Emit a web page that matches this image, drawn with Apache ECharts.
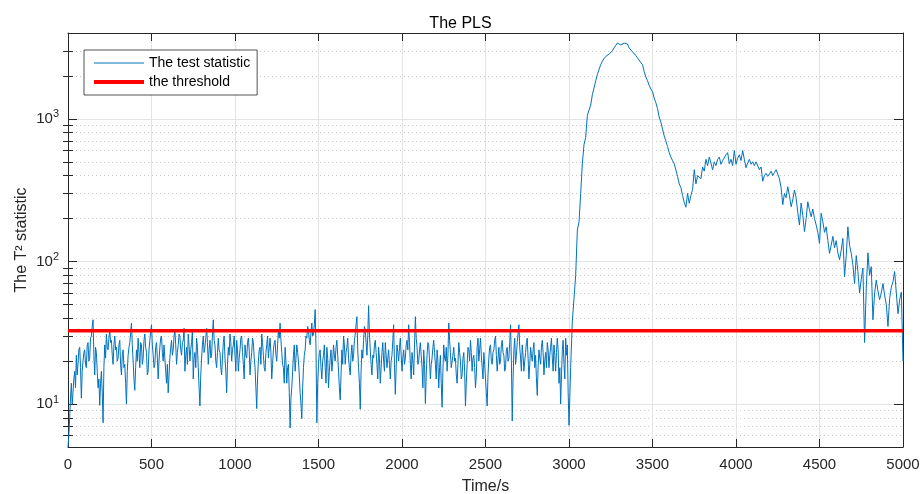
<!DOCTYPE html>
<html lang="en">
<head>
    <meta charset="UTF-8">
    <title>The PLS</title>
    <script src="https://cdn.jsdelivr.net/npm/echarts@6/dist/echarts.min.js"></script>
    <style>
        html, body { margin: 0; padding: 0; background: #fff; }
        #main { width: 921px; height: 494px; }
    </style>
</head>
<body>
<div id="main"></div>
<script>
    // T2 statistic, normal operation 0..3000 s, one value every 5 s
    const normalStep = 5;
    const normalT2 = [
        5, 6, 8, 11, 14, 10, 12, 15, 17, 13, 22, 16, 19, 24, 25, 18, 11, 17, 20, 23,
        24, 19, 18, 26, 27, 20, 21, 29, 30, 35, 39, 22, 16, 25, 23, 17, 13, 15, 9.8, 14,
        17, 12, 7.4, 18, 26, 21, 31, 25, 24, 29, 33, 27, 28, 22, 19, 26, 30, 24, 25, 20,
        21, 26, 28, 19, 16, 22, 24, 18, 19, 14, 10, 17, 22, 25, 27, 31, 37, 26, 20, 15,
        12.5, 18, 24, 20, 29, 23, 18, 27, 26, 19, 21, 28, 31, 25, 23, 16, 17, 24, 28, 32,
        36, 26, 22, 18, 19, 25, 27, 21, 15, 20, 25, 29, 30, 23, 20, 26, 26, 17, 14, 19,
        12, 16, 21, 25, 28, 22, 24, 30, 33, 26, 19, 23, 26, 31, 30, 24, 22, 27, 28, 34,
        17, 22, 25, 19, 31, 26, 20, 24, 27, 33, 15, 21, 23, 18, 29, 25, 18, 13, 9.7, 16,
        21, 26, 30, 23, 25, 29, 34, 27, 19, 24, 28, 21, 22, 31, 39, 28, 26, 20, 18, 23,
        29, 24, 23, 18, 16, 21, 27, 30, 21, 17, 12, 19, 25, 22, 31, 27, 20, 24, 26, 30,
        22, 17, 28, 24, 17, 21, 24, 29, 30, 23, 19, 15, 26, 22, 21, 27, 29, 24, 16, 20,
        23, 29, 27, 21, 18, 13, 9.3, 15, 20, 24, 25, 19, 31, 27, 22, 18, 17, 23, 26, 30,
        21, 25, 29, 23, 15, 19, 24, 27, 28, 22, 20, 26, 33, 29, 37, 28, 23, 19, 18, 14,
        25, 20, 14, 18, 19, 12, 6.8, 11, 13, 17, 22, 26, 17, 21, 26, 23, 20, 16, 12, 10,
        7.9, 13, 18, 22, 24, 30, 29, 35, 33, 28, 26, 32, 37, 30, 31, 36, 46, 25, 7.4, 14,
        19, 23, 24, 18, 15, 20, 22, 26, 18, 14, 25, 21, 13, 17, 21, 24, 17, 20, 26, 22,
        20, 25, 28, 22, 17, 13, 10.7, 16, 24, 19, 30, 26, 19, 23, 25, 29, 21, 18, 16, 22,
        26, 20, 22, 28, 31, 36, 41, 24, 18, 14, 9.2, 17, 24, 21, 28, 35, 33, 27, 22, 30,
        49, 31, 24, 19, 16, 22, 21, 26, 28, 23, 19, 15, 25, 21, 14, 18, 23, 27, 20, 17,
        27, 22, 18, 21, 24, 19, 15, 20, 22, 28, 36, 19, 11.7, 18, 26, 23, 20, 25, 29, 22,
        17, 21, 24, 19, 21, 26, 28, 24, 36, 27, 19, 15, 23, 20, 16, 26, 41, 29, 25, 19,
        20, 24, 27, 22, 18, 13, 24, 19, 10.1, 16, 22, 27, 26, 20, 15, 19, 21, 25, 28, 23,
        19, 15, 24, 20, 13, 18, 22, 14, 9.5, 17, 26, 21, 20, 25, 17, 22, 37, 28, 23, 18,
        18, 22, 25, 20, 21, 16, 14, 19, 27, 23, 20, 15, 16, 21, 23, 17, 9.7, 14, 19, 25,
        24, 20, 28, 23, 17, 21, 22, 18, 13, 16, 25, 29, 20, 24, 29, 22, 18, 15, 23, 19,
        15, 12, 9.7, 16, 21, 25, 26, 20, 19, 23, 24, 28, 30, 22, 17, 21, 25, 19, 20, 26,
        28, 23, 22, 17, 18, 24, 25, 20, 21, 27, 36, 20, 7.6, 15, 24, 29, 19, 22, 27, 31,
        36, 25, 21, 17, 26, 22, 17, 20, 23, 27, 29, 21, 15, 19, 25, 22, 20, 24, 27, 18,
        22, 15, 11.5, 18, 24, 21, 19, 25, 28, 23, 16, 20, 23, 18, 27, 24, 18, 22, 25, 29,
        21, 17, 26, 22, 17, 23, 29, 24, 14, 18, 10, 16, 24, 28, 19, 15, 29, 22, 26, 12,
        7.1
    ];

    // fault: rise, peak and second hump, from 3010 s every 10 s
    const faultStart = 3010;
    const faultStep = 10;
    const faultT2 = [
        18, 38, 55, 80, 166, 190, 300, 490, 660, 740,
        1060, 1080, 1250, 1480, 1650, 1850, 2050, 2220, 2400, 2540,
        2650, 2740, 2780, 2850, 2920, 3000, 3150, 3250, 3400, 3420,
        3300, 3280, 3400, 3380, 3350, 3150, 3100, 2950, 2900, 2780,
        2680, 2600, 2480, 2400, 2150, 1970, 1850, 1720, 1620, 1550,
        1400, 1300, 1180, 1030, 950, 850, 760, 700, 640, 580,
        540, 510, 485, 470, 395, 350, 330, 290, 260, 240,
        300, 256, 290, 320, 440, 350, 400, 410, 380, 460,
        430, 520, 470, 540, 490, 440, 500, 470, 520, 540,
        480, 510, 500, 560, 580, 485, 520, 470, 600
    ];

    // decay, 4000..5000 s every 10 s
    const decayStart = 4000;
    const decayStep = 10;
    const decayT2 = [
        480, 530, 560, 510, 600, 520, 455, 490, 520, 480,
        500, 470, 500, 490, 440, 460, 365, 400, 415, 395,
        410, 430, 400, 420, 440, 410, 380, 330, 250, 300,
        280, 334, 290, 242, 270, 317, 280, 220, 180, 257,
        210, 162, 200, 262, 230, 206, 233, 200, 180, 160,
        134, 218, 190, 160, 175, 140, 114, 130, 150, 125,
        140, 115, 103, 120, 145, 78, 110, 175, 130, 114,
        95, 70, 110, 85, 60, 75, 90, 27, 65, 115,
        80, 92, 39, 60, 74, 62, 54, 60, 70, 58,
        50, 35, 55, 66, 72, 85, 60, 43, 54, 61,
        20
    ];

    const thresholdValue = 32.7;
    const timeRange = [0, 5000];
    const xTickStep = 500;
    const yRange = [5, 4000];
    const minorYTicks = [6, 7, 8, 9, 20, 30, 40, 50, 60, 70, 80, 90,
        200, 300, 400, 500, 600, 700, 800, 900, 2000, 3000];

    function toPoints(values, start, step) {
        return values.map(function (v, i) { return [start + i * step, v]; });
    }

    const t2Points = toPoints(normalT2, 0, normalStep)
        .concat(toPoints(faultT2, faultStart, faultStep))
        .concat(toPoints(decayT2, decayStart, decayStep));
    const thresholdPoints = timeRange.map(function (t) { return [t, thresholdValue]; });

    const axisColor = '#262626';
    const fontName = 'Liberation Sans, Arial, sans-serif';

    let myChart = echarts.init(document.getElementById('main'), null, {renderer: 'canvas'});

    let logAxisBase = {
        type: 'log',
        logBase: 10,
        min: yRange[0],
        max: yRange[1],
        gridIndex: 0
    };

    let option = {
        animation: false,
        backgroundColor: '#fff',
        title: {
            text: 'The PLS',
            left: 'center',
            top: 11,
            textStyle: {fontFamily: fontName, fontSize: 16, fontWeight: 'normal', color: '#000'}
        },
        grid: {left: 68, right: 18, top: 33, bottom: 47, outerBoundsMode: 'none', containLabel: false},
        legend: {
            left: 84,
            top: 50,
            orient: 'vertical',
            itemWidth: 50,
            itemHeight: 14,
            itemGap: 5,
            padding: [6, 7, 6, 8],
            backgroundColor: '#fff',
            borderColor: axisColor,
            borderWidth: 0.8,
            itemStyle: {opacity: 0, borderWidth: 0},
            textStyle: {fontFamily: fontName, fontSize: 14, color: '#000'},
            data: [
                {name: 'The test statistic', lineStyle: {width: 1}},
                {name: 'the threshold', lineStyle: {width: 4}}
            ]
        },
        xAxis: [
            {
                type: 'value',
                min: timeRange[0],
                max: timeRange[1],
                interval: xTickStep,
                name: 'Time/s',
                nameLocation: 'middle',
                nameGap: 32,
                nameMoveOverlap: false,
                nameTextStyle: {fontFamily: fontName, fontSize: 16, color: axisColor},
                axisLine: {show: true, onZero: false, lineStyle: {color: axisColor, width: 1}},
                axisTick: {show: true, inside: true, length: 8, lineStyle: {color: axisColor}},
                axisLabel: {
                    fontFamily: fontName, fontSize: 15, color: axisColor, margin: 10,
                    formatter: function (v) { return String(v); }
                },
                splitLine: {show: true, lineStyle: {color: '#e3e3e3', width: 1}}
            },
            {
                type: 'value',
                position: 'top',
                min: timeRange[0],
                max: timeRange[1],
                interval: xTickStep,
                axisLine: {show: true, onZero: false, lineStyle: {color: axisColor, width: 1}},
                axisTick: {show: true, inside: true, length: 8, lineStyle: {color: axisColor}},
                axisLabel: {show: false},
                splitLine: {show: false}
            }
        ],
        yAxis: [
            Object.assign({}, logAxisBase, {
                position: 'left',
                name: 'The T² statistic',
                nameLocation: 'middle',
                nameGap: 38,
                nameMoveOverlap: false,
                nameTextStyle: {fontFamily: fontName, fontSize: 16, color: axisColor},
                axisLine: {show: true, onZero: false, lineStyle: {color: axisColor, width: 1}},
                axisTick: {show: true, inside: true, length: 9, lineStyle: {color: axisColor}},
                axisLabel: {
                    showMinLabel: false,
                    showMaxLabel: false,
                    margin: 9,
                    formatter: function (value) {
                        let p = Math.round(Math.log10(value));
                        return '{base|10}{sup|' + p + '}';
                    },
                    rich: {
                        base: {fontFamily: fontName, fontSize: 15, color: axisColor},
                        sup: {fontFamily: fontName, fontSize: 11, color: axisColor, padding: [0, 0, 9, 0]}
                    }
                },
                splitLine: {show: true, lineStyle: {color: '#e3e3e3', width: 1}}
            }),
            Object.assign({}, logAxisBase, {
                position: 'right',
                axisLine: {show: true, onZero: false, lineStyle: {color: axisColor, width: 1}},
                axisTick: {show: true, inside: true, length: 9, lineStyle: {color: axisColor}},
                axisLabel: {show: false},
                splitLine: {show: false}
            }),
            Object.assign({}, logAxisBase, {
                position: 'left',
                axisLine: {show: false},
                axisTick: {show: true, inside: true, length: 5, customValues: minorYTicks, lineStyle: {color: axisColor}},
                axisLabel: {show: false},
                splitLine: {show: true, lineStyle: {color: '#c8c8c8', width: 1, type: [1, 3]}}
            }),
            Object.assign({}, logAxisBase, {
                position: 'right',
                axisLine: {show: false},
                axisTick: {show: true, inside: true, length: 5, customValues: minorYTicks, lineStyle: {color: axisColor}},
                axisLabel: {show: false},
                splitLine: {show: false}
            })
        ],
        series: [
            {
                name: 'The test statistic',
                type: 'line',
                xAxisIndex: 0,
                yAxisIndex: 0,
                symbol: 'none',
                color: '#0072BD',
                lineStyle: {color: '#0072BD', width: 1},
                data: t2Points,
                z: 3
            },
            {
                name: 'the threshold',
                type: 'line',
                xAxisIndex: 0,
                yAxisIndex: 0,
                symbol: 'none',
                color: '#FF0000',
                lineStyle: {color: '#FF0000', width: 3.5},
                data: thresholdPoints,
                z: 4
            }
        ]
    };
    myChart.setOption(option);
</script>
</body>
</html>
